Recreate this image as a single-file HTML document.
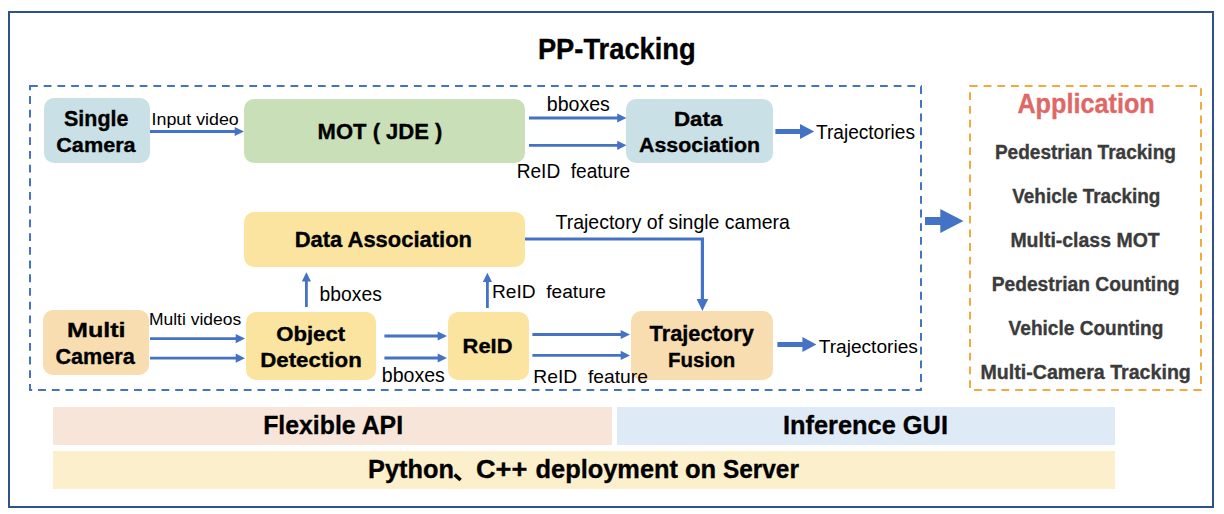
<!DOCTYPE html>
    <html><head><meta charset="utf-8"><style>
    html,body{margin:0;padding:0;background:#fff;}
    svg{display:block;font-family:"Liberation Sans",sans-serif;}
    </style></head><body>
    <svg width="1224" height="514" viewBox="0 0 1224 514">
    <rect x="9" y="12" width="1204" height="495" fill="none" stroke="#2F528F" stroke-width="2"/>
<path fill="#4472C4" d="M29.99 85H37.79V87H29.99ZM43.70 85H51.50V87H43.70ZM57.41 85H65.21V87H57.41ZM71.12 85H78.92V87H71.12ZM84.83 85H92.63V87H84.83ZM98.54 85H106.34V87H98.54ZM112.25 85H120.05V87H112.25ZM125.96 85H133.76V87H125.96ZM139.67 85H147.47V87H139.67ZM153.38 85H161.18V87H153.38ZM167.09 85H174.89V87H167.09ZM180.80 85H188.60V87H180.80ZM194.51 85H202.31V87H194.51ZM208.22 85H216.02V87H208.22ZM221.93 85H229.73V87H221.93ZM235.64 85H243.44V87H235.64ZM249.35 85H257.15V87H249.35ZM263.06 85H270.86V87H263.06ZM276.77 85H284.57V87H276.77ZM290.48 85H298.28V87H290.48ZM304.19 85H311.99V87H304.19ZM317.90 85H325.70V87H317.90ZM331.61 85H339.41V87H331.61ZM345.32 85H353.12V87H345.32ZM359.03 85H366.83V87H359.03ZM372.74 85H380.54V87H372.74ZM386.45 85H394.25V87H386.45ZM400.16 85H407.96V87H400.16ZM413.87 85H421.67V87H413.87ZM427.58 85H435.38V87H427.58ZM441.29 85H449.09V87H441.29ZM455.00 85H462.80V87H455.00ZM468.71 85H476.51V87H468.71ZM482.42 85H490.22V87H482.42ZM496.13 85H503.93V87H496.13ZM509.84 85H517.64V87H509.84ZM523.55 85H531.35V87H523.55ZM537.26 85H545.06V87H537.26ZM550.97 85H558.77V87H550.97ZM564.68 85H572.48V87H564.68ZM578.39 85H586.19V87H578.39ZM592.10 85H599.90V87H592.10ZM605.81 85H613.61V87H605.81ZM619.52 85H627.32V87H619.52ZM633.23 85H641.03V87H633.23ZM646.94 85H654.74V87H646.94ZM660.65 85H668.45V87H660.65ZM674.36 85H682.16V87H674.36ZM688.07 85H695.87V87H688.07ZM701.78 85H709.58V87H701.78ZM715.49 85H723.29V87H715.49ZM729.20 85H737.00V87H729.20ZM742.91 85H750.71V87H742.91ZM756.62 85H764.42V87H756.62ZM770.33 85H778.13V87H770.33ZM784.04 85H791.84V87H784.04ZM797.75 85H805.55V87H797.75ZM811.46 85H819.26V87H811.46ZM825.17 85H832.97V87H825.17ZM838.88 85H846.68V87H838.88ZM852.59 85H860.39V87H852.59ZM866.30 85H874.10V87H866.30ZM880.01 85H887.81V87H880.01ZM893.72 85H901.52V87H893.72ZM907.43 85H915.23V87H907.43ZM921.14 85H922.00V87H921.14Z"/>
<path fill="#4472C4" d="M920 86.20V94.00H922V86.20ZM920 99.91V107.71H922V99.91ZM920 113.62V121.42H922V113.62ZM920 127.33V135.13H922V127.33ZM920 141.04V148.84H922V141.04ZM920 154.75V162.55H922V154.75ZM920 168.46V176.26H922V168.46ZM920 182.17V189.97H922V182.17ZM920 195.88V203.68H922V195.88ZM920 209.59V217.39H922V209.59ZM920 223.30V231.10H922V223.30ZM920 237.01V244.81H922V237.01ZM920 250.72V258.52H922V250.72ZM920 264.43V272.23H922V264.43ZM920 278.14V285.94H922V278.14ZM920 291.85V299.65H922V291.85ZM920 305.56V313.36H922V305.56ZM920 319.27V327.07H922V319.27ZM920 332.98V340.78H922V332.98ZM920 346.69V354.49H922V346.69ZM920 360.40V368.20H922V360.40ZM920 374.11V381.91H922V374.11ZM920 387.82V391.00H922V387.82Z"/>
<path fill="#4472C4" d="M29.00 389H32.19V391H29.00ZM38.10 389H45.90V391H38.10ZM51.81 389H59.61V391H51.81ZM65.52 389H73.32V391H65.52ZM79.23 389H87.03V391H79.23ZM92.94 389H100.74V391H92.94ZM106.65 389H114.45V391H106.65ZM120.36 389H128.16V391H120.36ZM134.07 389H141.87V391H134.07ZM147.78 389H155.58V391H147.78ZM161.49 389H169.29V391H161.49ZM175.20 389H183.00V391H175.20ZM188.91 389H196.71V391H188.91ZM202.62 389H210.42V391H202.62ZM216.33 389H224.13V391H216.33ZM230.04 389H237.84V391H230.04ZM243.75 389H251.55V391H243.75ZM257.46 389H265.26V391H257.46ZM271.17 389H278.97V391H271.17ZM284.88 389H292.68V391H284.88ZM298.59 389H306.39V391H298.59ZM312.30 389H320.10V391H312.30ZM326.01 389H333.81V391H326.01ZM339.72 389H347.52V391H339.72ZM353.43 389H361.23V391H353.43ZM367.14 389H374.94V391H367.14ZM380.85 389H388.65V391H380.85ZM394.56 389H402.36V391H394.56ZM408.27 389H416.07V391H408.27ZM421.98 389H429.78V391H421.98ZM435.69 389H443.49V391H435.69ZM449.40 389H457.20V391H449.40ZM463.11 389H470.91V391H463.11ZM476.82 389H484.62V391H476.82ZM490.53 389H498.33V391H490.53ZM504.24 389H512.04V391H504.24ZM517.95 389H525.75V391H517.95ZM531.66 389H539.46V391H531.66ZM545.37 389H553.17V391H545.37ZM559.08 389H566.88V391H559.08ZM572.79 389H580.59V391H572.79ZM586.50 389H594.30V391H586.50ZM600.21 389H608.01V391H600.21ZM613.92 389H621.72V391H613.92ZM627.63 389H635.43V391H627.63ZM641.34 389H649.14V391H641.34ZM655.05 389H662.85V391H655.05ZM668.76 389H676.56V391H668.76ZM682.47 389H690.27V391H682.47ZM696.18 389H703.98V391H696.18ZM709.89 389H717.69V391H709.89ZM723.60 389H731.40V391H723.60ZM737.31 389H745.11V391H737.31ZM751.02 389H758.82V391H751.02ZM764.73 389H772.53V391H764.73ZM778.44 389H786.24V391H778.44ZM792.15 389H799.95V391H792.15ZM805.86 389H813.66V391H805.86ZM819.57 389H827.37V391H819.57ZM833.28 389H841.08V391H833.28ZM846.99 389H854.79V391H846.99ZM860.70 389H868.50V391H860.70ZM874.41 389H882.21V391H874.41ZM888.12 389H895.92V391H888.12ZM901.83 389H909.63V391H901.83ZM915.54 389H922.00V391H915.54Z"/>
<path fill="#4472C4" d="M29 85.00V90.19H31V85.00ZM29 96.10V103.90H31V96.10ZM29 109.81V117.61H31V109.81ZM29 123.52V131.32H31V123.52ZM29 137.23V145.03H31V137.23ZM29 150.94V158.74H31V150.94ZM29 164.65V172.45H31V164.65ZM29 178.36V186.16H31V178.36ZM29 192.07V199.87H31V192.07ZM29 205.78V213.58H31V205.78ZM29 219.49V227.29H31V219.49ZM29 233.20V241.00H31V233.20ZM29 246.91V254.71H31V246.91ZM29 260.62V268.42H31V260.62ZM29 274.33V282.13H31V274.33ZM29 288.04V295.84H31V288.04ZM29 301.75V309.55H31V301.75ZM29 315.46V323.26H31V315.46ZM29 329.17V336.97H31V329.17ZM29 342.88V350.68H31V342.88ZM29 356.59V364.39H31V356.59ZM29 370.30V378.10H31V370.30ZM29 384.01V391.00H31V384.01Z"/>
<path fill="#F0AB3C" d="M969.89 85H977.69V87H969.89ZM983.60 85H991.40V87H983.60ZM997.31 85H1005.11V87H997.31ZM1011.02 85H1018.82V87H1011.02ZM1024.73 85H1032.53V87H1024.73ZM1038.44 85H1046.24V87H1038.44ZM1052.15 85H1059.95V87H1052.15ZM1065.86 85H1073.66V87H1065.86ZM1079.57 85H1087.37V87H1079.57ZM1093.28 85H1101.08V87H1093.28ZM1106.99 85H1114.79V87H1106.99ZM1120.70 85H1128.50V87H1120.70ZM1134.41 85H1142.21V87H1134.41ZM1148.12 85H1155.92V87H1148.12ZM1161.83 85H1169.63V87H1161.83ZM1175.54 85H1183.34V87H1175.54ZM1189.25 85H1197.05V87H1189.25Z"/>
<path fill="#F0AB3C" d="M1200 88.20V96.00H1202V88.20ZM1200 101.91V109.71H1202V101.91ZM1200 115.62V123.42H1202V115.62ZM1200 129.33V137.13H1202V129.33ZM1200 143.04V150.84H1202V143.04ZM1200 156.75V164.55H1202V156.75ZM1200 170.46V178.26H1202V170.46ZM1200 184.17V191.97H1202V184.17ZM1200 197.88V205.68H1202V197.88ZM1200 211.59V219.39H1202V211.59ZM1200 225.30V233.10H1202V225.30ZM1200 239.01V246.81H1202V239.01ZM1200 252.72V260.52H1202V252.72ZM1200 266.43V274.23H1202V266.43ZM1200 280.14V287.94H1202V280.14ZM1200 293.85V301.65H1202V293.85ZM1200 307.56V315.36H1202V307.56ZM1200 321.27V329.07H1202V321.27ZM1200 334.98V342.78H1202V334.98ZM1200 348.69V356.49H1202V348.69ZM1200 362.40V370.20H1202V362.40ZM1200 376.11V383.91H1202V376.11ZM1200 389.82V391.00H1202V389.82Z"/>
<path fill="#F0AB3C" d="M974.00 389H981.80V391H974.00ZM987.71 389H995.51V391H987.71ZM1001.42 389H1009.22V391H1001.42ZM1015.13 389H1022.93V391H1015.13ZM1028.84 389H1036.64V391H1028.84ZM1042.55 389H1050.35V391H1042.55ZM1056.26 389H1064.06V391H1056.26ZM1069.97 389H1077.77V391H1069.97ZM1083.68 389H1091.48V391H1083.68ZM1097.39 389H1105.19V391H1097.39ZM1111.10 389H1118.90V391H1111.10ZM1124.81 389H1132.61V391H1124.81ZM1138.52 389H1146.32V391H1138.52ZM1152.23 389H1160.03V391H1152.23ZM1165.94 389H1173.74V391H1165.94ZM1179.65 389H1187.45V391H1179.65ZM1193.36 389H1201.16V391H1193.36Z"/>
<path fill="#F0AB3C" d="M969 85.00V86.39H971V85.00ZM969 92.30V100.10H971V92.30ZM969 106.01V113.81H971V106.01ZM969 119.72V127.52H971V119.72ZM969 133.43V141.23H971V133.43ZM969 147.14V154.94H971V147.14ZM969 160.85V168.65H971V160.85ZM969 174.56V182.36H971V174.56ZM969 188.27V196.07H971V188.27ZM969 201.98V209.78H971V201.98ZM969 215.69V223.49H971V215.69ZM969 229.40V237.20H971V229.40ZM969 243.11V250.91H971V243.11ZM969 256.82V264.62H971V256.82ZM969 270.53V278.33H971V270.53ZM969 284.24V292.04H971V284.24ZM969 297.95V305.75H971V297.95ZM969 311.66V319.46H971V311.66ZM969 325.37V333.17H971V325.37ZM969 339.08V346.88H971V339.08ZM969 352.79V360.59H971V352.79ZM969 366.50V374.30H971V366.50ZM969 380.21V388.01H971V380.21Z"/>
<rect x="44" y="98" width="106" height="65" rx="10" ry="10" fill="#C9E1E6"/>
<rect x="244" y="99" width="281" height="64" rx="10" ry="10" fill="#C8DFB8"/>
<rect x="626" y="99" width="147" height="64" rx="10" ry="10" fill="#C9E1E6"/>
<rect x="244" y="212" width="281" height="55" rx="10" ry="10" fill="#FBE4A0"/>
<rect x="43" y="310" width="106" height="65" rx="10" ry="10" fill="#F8DDB0"/>
<rect x="246" y="312" width="130" height="68" rx="10" ry="10" fill="#FBE4A0"/>
<rect x="448" y="312" width="81" height="68" rx="10" ry="10" fill="#FBE4A0"/>
<rect x="631" y="311" width="142" height="69" rx="10" ry="10" fill="#F8DDB0"/>
<rect x="53" y="407" width="559" height="38" fill="#F8E5DA"/>
<rect x="617" y="407" width="498" height="38" fill="#DEEAF6"/>
<rect x="53" y="451" width="1062" height="38" fill="#FCEFCC"/>
<line x1="150" y1="131.5" x2="235.7" y2="131.5" stroke="#4472C4" stroke-width="2.8"/>
<polygon points="234.7,126.9 244,131.5 234.7,136.1" fill="#4472C4"/>
<line x1="529" y1="118" x2="618.2" y2="118" stroke="#4472C4" stroke-width="2.8"/>
<polygon points="617.2,113.4 626.5,118 617.2,122.6" fill="#4472C4"/>
<line x1="529" y1="145.3" x2="618.2" y2="145.3" stroke="#4472C4" stroke-width="2.8"/>
<polygon points="617.2,140.70000000000002 626.5,145.3 617.2,149.9" fill="#4472C4"/>
<line x1="150" y1="338.6" x2="236.7" y2="338.6" stroke="#4472C4" stroke-width="2.8"/>
<polygon points="235.7,334.0 245,338.6 235.7,343.20000000000005" fill="#4472C4"/>
<line x1="150" y1="358.2" x2="236.7" y2="358.2" stroke="#4472C4" stroke-width="2.8"/>
<polygon points="235.7,353.59999999999997 245,358.2 235.7,362.8" fill="#4472C4"/>
<line x1="384.4" y1="336" x2="438.7" y2="336" stroke="#4472C4" stroke-width="2.8"/>
<polygon points="437.7,331.4 447,336 437.7,340.6" fill="#4472C4"/>
<line x1="384.4" y1="358" x2="438.7" y2="358" stroke="#4472C4" stroke-width="2.8"/>
<polygon points="437.7,353.4 447,358 437.7,362.6" fill="#4472C4"/>
<line x1="532.4" y1="334.5" x2="621.7" y2="334.5" stroke="#4472C4" stroke-width="2.8"/>
<polygon points="620.7,329.9 630,334.5 620.7,339.1" fill="#4472C4"/>
<line x1="532.4" y1="355.4" x2="621.7" y2="355.4" stroke="#4472C4" stroke-width="2.8"/>
<polygon points="620.7,350.79999999999995 630,355.4 620.7,360.0" fill="#4472C4"/>
<line x1="306.4" y1="307" x2="306.4" y2="280.5" stroke="#4472C4" stroke-width="2.8"/>
<polygon points="301.79999999999995,281.5 306.4,272.2 311.0,281.5" fill="#4472C4"/>
<line x1="487.4" y1="308" x2="487.4" y2="281.1" stroke="#4472C4" stroke-width="2.8"/>
<polygon points="482.79999999999995,282.1 487.4,272.8 492.0,282.1" fill="#4472C4"/>
<polyline points="525,239 702.4,239 702.4,300" fill="none" stroke="#4472C4" stroke-width="3.2"/>
<polygon points="696.6,299 708.2,299 702.4,311" fill="#4472C4"/>
<polygon points="775.4,128.9 800,128.9 800,123.9 814.2,131.4 800,138.9 800,133.9 775.4,133.9" fill="#4472C4"/>
<polygon points="777.4,341.9 802.4,341.9 802.4,336.9 816.4,344.4 802.4,351.9 802.4,346.9 777.4,346.9" fill="#4472C4"/>
<polygon points="925,217.0 940.3,217.0 940.3,209.0 963.5,221 940.3,233.0 940.3,225.0 925,225.0" fill="#4472C4"/>
<text x="537.89" y="59.20" font-size="29.65" font-weight="bold" fill="#000" stroke="#000" stroke-width="0.35" textLength="157.85" lengthAdjust="spacingAndGlyphs" xml:space="preserve">PP-Tracking</text>
<text x="64.06" y="126.10" font-size="21.66" font-weight="bold" fill="#000" stroke="#000" stroke-width="0.35" textLength="64.37" lengthAdjust="spacingAndGlyphs" xml:space="preserve">Single</text>
<text x="56.22" y="151.80" font-size="21.08" font-weight="bold" fill="#000" stroke="#000" stroke-width="0.35" textLength="79.44" lengthAdjust="spacingAndGlyphs" xml:space="preserve">Camera</text>
<text x="151.61" y="124.90" font-size="17.30" font-weight="normal" fill="#000" textLength="87.11" lengthAdjust="spacingAndGlyphs" xml:space="preserve">Input video</text>
<text x="317.62" y="139.30" font-size="22.82" font-weight="bold" fill="#000" stroke="#000" stroke-width="0.35" textLength="124.77" lengthAdjust="spacingAndGlyphs" xml:space="preserve">MOT ( JDE )</text>
<text x="546.78" y="111.00" font-size="20.29" font-weight="normal" fill="#000" textLength="63.03" lengthAdjust="spacingAndGlyphs" xml:space="preserve">bboxes</text>
<text x="516.71" y="177.90" font-size="19.91" font-weight="normal" fill="#000" textLength="113.46" lengthAdjust="spacingAndGlyphs" xml:space="preserve">ReID  feature</text>
<text x="673.90" y="125.60" font-size="20.35" font-weight="bold" fill="#000" stroke="#000" stroke-width="0.35" textLength="48.56" lengthAdjust="spacingAndGlyphs" xml:space="preserve">Data</text>
<text x="639.07" y="151.70" font-size="20.93" font-weight="bold" fill="#000" stroke="#000" stroke-width="0.35" textLength="120.97" lengthAdjust="spacingAndGlyphs" xml:space="preserve">Association</text>
<text x="816.00" y="138.70" font-size="19.91" font-weight="normal" fill="#000" textLength="98.99" lengthAdjust="spacingAndGlyphs" xml:space="preserve">Trajectories</text>
<text x="1017.41" y="112.90" font-size="27.18" font-weight="bold" fill="#DF6866" stroke="#DF6866" stroke-width="0.35" textLength="137.31" lengthAdjust="spacingAndGlyphs" xml:space="preserve">Application</text>
<text x="994.91" y="158.90" font-size="19.91" font-weight="bold" fill="#3B3B3B" stroke="#3B3B3B" stroke-width="0.35" textLength="181.01" lengthAdjust="spacingAndGlyphs" xml:space="preserve">Pedestrian Tracking</text>
<text x="1012.30" y="202.50" font-size="19.91" font-weight="bold" fill="#3B3B3B" stroke="#3B3B3B" stroke-width="0.35" textLength="148.11" lengthAdjust="spacingAndGlyphs" xml:space="preserve">Vehicle Tracking</text>
<text x="1010.38" y="246.80" font-size="19.91" font-weight="bold" fill="#3B3B3B" stroke="#3B3B3B" stroke-width="0.35" textLength="149.35" lengthAdjust="spacingAndGlyphs" xml:space="preserve">Multi-class MOT</text>
<text x="991.70" y="290.90" font-size="19.91" font-weight="bold" fill="#3B3B3B" stroke="#3B3B3B" stroke-width="0.35" textLength="187.93" lengthAdjust="spacingAndGlyphs" xml:space="preserve">Pedestrian Counting</text>
<text x="1008.60" y="334.90" font-size="19.91" font-weight="bold" fill="#3B3B3B" stroke="#3B3B3B" stroke-width="0.35" textLength="154.82" lengthAdjust="spacingAndGlyphs" xml:space="preserve">Vehicle Counting</text>
<text x="980.47" y="378.90" font-size="19.91" font-weight="bold" fill="#3B3B3B" stroke="#3B3B3B" stroke-width="0.35" textLength="210.38" lengthAdjust="spacingAndGlyphs" xml:space="preserve">Multi-Camera Tracking</text>
<text x="294.63" y="246.80" font-size="22.09" font-weight="bold" fill="#000" stroke="#000" stroke-width="0.35" textLength="177.42" lengthAdjust="spacingAndGlyphs" xml:space="preserve">Data Association</text>
<text x="555.50" y="229.10" font-size="20.78" font-weight="normal" fill="#000" textLength="234.38" lengthAdjust="spacingAndGlyphs" xml:space="preserve">Trajectory of single camera</text>
<text x="319.59" y="300.80" font-size="20.29" font-weight="normal" fill="#000" textLength="62.21" lengthAdjust="spacingAndGlyphs" xml:space="preserve">bboxes</text>
<text x="492.00" y="297.70" font-size="19.19" font-weight="normal" fill="#000" textLength="113.87" lengthAdjust="spacingAndGlyphs" xml:space="preserve">ReID  feature</text>
<text x="67.03" y="337.30" font-size="20.93" font-weight="bold" fill="#000" stroke="#000" stroke-width="0.35" textLength="58.55" lengthAdjust="spacingAndGlyphs" xml:space="preserve">Multi</text>
<text x="55.42" y="363.50" font-size="21.80" font-weight="bold" fill="#000" stroke="#000" stroke-width="0.35" textLength="79.44" lengthAdjust="spacingAndGlyphs" xml:space="preserve">Camera</text>
<text x="148.94" y="324.60" font-size="17.15" font-weight="normal" fill="#000" textLength="92.21" lengthAdjust="spacingAndGlyphs" xml:space="preserve">Multi videos</text>
<text x="276.21" y="340.50" font-size="20.93" font-weight="bold" fill="#000" stroke="#000" stroke-width="0.35" textLength="68.90" lengthAdjust="spacingAndGlyphs" xml:space="preserve">Object</text>
<text x="260.21" y="366.60" font-size="21.08" font-weight="bold" fill="#000" stroke="#000" stroke-width="0.35" textLength="101.57" lengthAdjust="spacingAndGlyphs" xml:space="preserve">Detection</text>
<text x="381.78" y="381.90" font-size="20.29" font-weight="normal" fill="#000" textLength="63.03" lengthAdjust="spacingAndGlyphs" xml:space="preserve">bboxes</text>
<text x="462.63" y="352.70" font-size="20.93" font-weight="bold" fill="#000" stroke="#000" stroke-width="0.35" textLength="49.82" lengthAdjust="spacingAndGlyphs" xml:space="preserve">ReID</text>
<text x="649.60" y="341.00" font-size="21.66" font-weight="bold" fill="#000" stroke="#000" stroke-width="0.35" textLength="104.16" lengthAdjust="spacingAndGlyphs" xml:space="preserve">Trajectory</text>
<text x="668.12" y="366.70" font-size="20.93" font-weight="bold" fill="#000" stroke="#000" stroke-width="0.35" textLength="67.07" lengthAdjust="spacingAndGlyphs" xml:space="preserve">Fusion</text>
<text x="533.29" y="382.60" font-size="19.04" font-weight="normal" fill="#000" textLength="114.59" lengthAdjust="spacingAndGlyphs" xml:space="preserve">ReID  feature</text>
<text x="818.70" y="352.80" font-size="19.19" font-weight="normal" fill="#000" textLength="99.20" lengthAdjust="spacingAndGlyphs" xml:space="preserve">Trajectories</text>
<text x="263.16" y="434.10" font-size="26.45" font-weight="bold" fill="#000" stroke="#000" stroke-width="0.35" textLength="139.90" lengthAdjust="spacingAndGlyphs" xml:space="preserve">Flexible API</text>
<text x="783.01" y="434.00" font-size="26.31" font-weight="bold" fill="#000" stroke="#000" stroke-width="0.35" textLength="164.99" lengthAdjust="spacingAndGlyphs" xml:space="preserve">Inference GUI</text>
<text x="368.12" y="477.70" font-size="26.16" font-weight="bold" fill="#000" stroke="#000" stroke-width="0.35" textLength="85.91" lengthAdjust="spacingAndGlyphs" xml:space="preserve">Python</text>
<text x="476.05" y="477.70" font-size="26.16" font-weight="bold" fill="#000" stroke="#000" stroke-width="0.35" textLength="51.25" lengthAdjust="spacingAndGlyphs" xml:space="preserve">C++</text>
<text x="535.61" y="477.70" font-size="26.16" font-weight="bold" fill="#000" stroke="#000" stroke-width="0.35" textLength="142.32" lengthAdjust="spacingAndGlyphs" xml:space="preserve">deployment</text>
<text x="685.00" y="477.70" font-size="26.16" font-weight="bold" fill="#000" stroke="#000" stroke-width="0.35" textLength="31.23" lengthAdjust="spacingAndGlyphs" xml:space="preserve">on</text>
<text x="722.92" y="477.70" font-size="26.16" font-weight="bold" fill="#000" stroke="#000" stroke-width="0.35" textLength="76.03" lengthAdjust="spacingAndGlyphs" xml:space="preserve">Server</text>
<path d="M454.6,474.6 L460.6,480" stroke="#000" stroke-width="3.6"/>
    </svg>
    </body></html>
